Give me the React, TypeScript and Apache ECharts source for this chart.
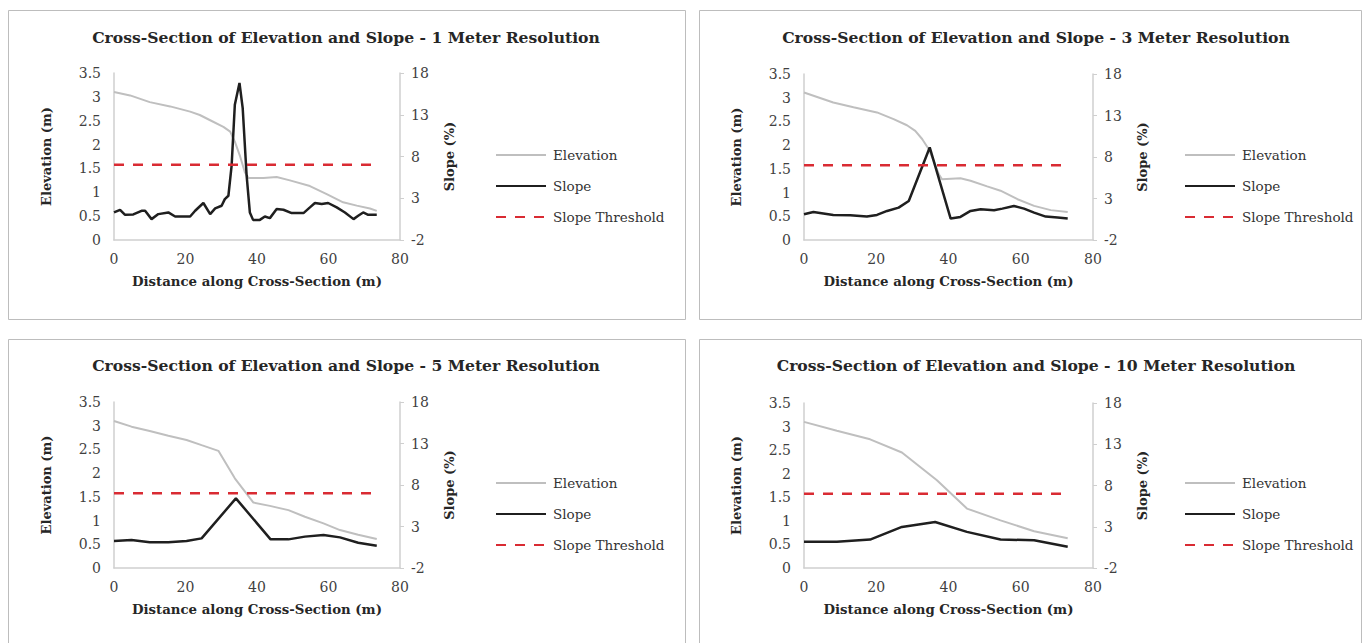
import React, { useEffect, useRef } from "react";
import * as echarts from "echarts";

const titles = [
  "Cross-Section of Elevation and Slope - 1 Meter Resolution",
  "Cross-Section of Elevation and Slope - 3 Meter Resolution",
  "Cross-Section of Elevation and Slope - 5 Meter Resolution",
  "Cross-Section of Elevation and Slope - 10 Meter Resolution",
];
const legendNames = ["Elevation", "Slope", "Slope Threshold"];
const slopeThreshold = 7;
const thresholdX = [0, 73];

// 1 m resolution
const elev1X = [0, 4.5, 10, 15.7, 21.3, 24, 26.9, 30.6, 32.5, 33.8, 35.2, 36.6, 37.6, 41.8, 45.5, 49.2, 54.8, 59.5, 64.1, 67.9, 71.6, 73.5];
const elev1Y = [3.1, 3.03, 2.89, 2.8, 2.69, 2.62, 2.51, 2.37, 2.27, 2.06, 1.77, 1.42, 1.3, 1.3, 1.32, 1.25, 1.13, 0.96, 0.79, 0.72, 0.66, 0.61];
const slope1X = [0, 1.7, 3.1, 5.4, 7.7, 8.7, 10.5, 12.4, 15.2, 17.1, 21.3, 22.7, 25, 26.9, 28.3, 30.1, 31, 32, 32.9, 33.8, 35.1, 36, 37.1, 38, 38.9, 40.8, 42.2, 43.6, 45.5, 47.4, 49.7, 53, 54.8, 56.2, 58.1, 59.9, 62.3, 64.6, 67, 68.3, 69.7, 71.1, 73.5];
const slope1Y = [1.3, 1.62, 1.02, 1.06, 1.5, 1.5, 0.5, 1.1, 1.3, 0.82, 0.82, 1.5, 2.43, 1.1, 1.78, 2.1, 2.9, 3.3, 6.9, 14.2, 16.8, 13.8, 5.7, 1.3, 0.41, 0.41, 0.82, 0.62, 1.7, 1.62, 1.22, 1.22, 1.9, 2.43, 2.3, 2.43, 1.9, 1.3, 0.5, 0.9, 1.3, 1.02, 1.02];

// 3 m resolution
const elev2X = [0, 8.1, 13.7, 20.2, 24.8, 28.5, 30.8, 32.7, 34.5, 35.9, 37.3, 38.2, 43.3, 46.1, 50.7, 54.4, 59.1, 63.7, 68.3, 73];
const elev2Y = [3.11, 2.9, 2.8, 2.69, 2.55, 2.42, 2.3, 2.13, 1.92, 1.67, 1.39, 1.28, 1.3, 1.25, 1.13, 1.04, 0.86, 0.72, 0.63, 0.59];
const slope2X = [0, 2.6, 8.1, 12.8, 17.4, 20.2, 23, 26.2, 29, 34.8, 40.6, 43.3, 46.1, 48.9, 52.6, 54.9, 58.1, 60.9, 63.7, 66.9, 70.2, 73];
const slope2Y = [1.1, 1.38, 1.02, 0.98, 0.82, 1.02, 1.5, 1.9, 2.7, 9.15, 0.58, 0.78, 1.5, 1.7, 1.58, 1.78, 2.1, 1.78, 1.3, 0.82, 0.7, 0.58];

// 5 m resolution
const elev3X = [0, 4.9, 10, 15.2, 20.3, 24.5, 29.2, 33.8, 39, 43.6, 48.8, 53.4, 58.6, 63.2, 68.3, 73.5];
const elev3Y = [3.1, 2.98, 2.89, 2.79, 2.7, 2.59, 2.47, 1.89, 1.38, 1.31, 1.22, 1.08, 0.94, 0.8, 0.7, 0.61];
const slope3X = [0, 4.9, 10, 15.2, 20.3, 24.5, 34.1, 43.8, 48.8, 53.4, 58.6, 63.2, 68.3, 73.5];
const slope3Y = [1.25, 1.37, 1.09, 1.09, 1.25, 1.57, 6.39, 1.45, 1.45, 1.78, 1.98, 1.69, 1.05, 0.69];

// 10 m resolution
const elev4X = [0, 9.1, 18.3, 27.1, 36.8, 45.1, 54.4, 63.7, 73];
const elev4Y = [3.1, 2.91, 2.73, 2.45, 1.86, 1.26, 1.01, 0.78, 0.63];
const slope4X = [0, 9.1, 18.3, 27.1, 36.3, 45.1, 54.4, 63.7, 73];
const slope4Y = [1.17, 1.17, 1.45, 2.98, 3.58, 2.38, 1.45, 1.37, 0.57];

const FONT = "'DejaVu Serif', 'Liberation Serif', serif";
const ELEV_COLOR = "#bfbfbf";
const SLOPE_COLOR = "#1f1f1f";
const THRESH_COLOR = "#d92b33";
const AXIS_COLOR = "#cfcfcf";
const LABEL_COLOR = "#3f3f3f";

const zip = (xs: number[], ys: number[]) => xs.map((x, i) => [x, ys[i]]);

const panelData = [
  { ex: elev1X, ey: elev1Y, sx: slope1X, sy: slope1Y },
  { ex: elev2X, ey: elev2Y, sx: slope2X, sy: slope2Y },
  { ex: elev3X, ey: elev3Y, sx: slope3X, sy: slope3Y },
  { ex: elev4X, ey: elev4Y, sx: slope4X, sy: slope4Y },
];

const layout = [
  { box: [8, 10, 677, 309], grid: { left: 114, top: 73, width: 286, height: 167 }, legend: { left: 495, top: 148 }, tx: 346, ty: 37 },
  { box: [699, 10, 662, 309], grid: { left: 804, top: 74, width: 289, height: 166 }, legend: { left: 1184, top: 148 }, tx: 1036, ty: 37 },
  { box: [8, 339, 677, 320], grid: { left: 114, top: 402, width: 286, height: 166 }, legend: { left: 495, top: 476 }, tx: 346, ty: 365 },
  { box: [699, 339, 662, 320], grid: { left: 804, top: 403, width: 289, height: 165 }, legend: { left: 1184, top: 476 }, tx: 1036, ty: 365 },
];

function buildOption() {
  const grid: any[] = [];
  const xAxis: any[] = [];
  const yAxis: any[] = [];
  const series: any[] = [];
  const legend: any[] = [];
  const graphic: any[] = [];

  layout.forEach((l, i) => {
    graphic.push({
      type: "rect",
      shape: { x: l.box[0] + 0.5, y: l.box[1] + 0.5, width: l.box[2], height: l.box[3] },
      style: { fill: "none", stroke: "#bdbdbd", lineWidth: 1 },
      silent: true,
      z: -1,
    });
    graphic.push({
      type: "text",
      x: l.tx,
      y: l.ty,
      style: {
        text: titles[i],
        font: `bold 15.6px ${FONT}`,
        fill: "#262626",
        textAlign: "center",
        textVerticalAlign: "middle",
      },
    });
    grid.push({ ...l.grid, containLabel: false });
    xAxis.push({
      type: "value",
      gridIndex: i,
      min: 0,
      max: 80,
      interval: 20,
      name: "Distance along Cross-Section (m)",
      nameLocation: "middle",
      nameGap: 35,
      nameTextStyle: { fontFamily: FONT, fontWeight: "bold", fontSize: 13.3, color: "#262626" },
      axisLine: { show: true, lineStyle: { color: AXIS_COLOR, width: 1.5 } },
      axisTick: { show: false },
      splitLine: { show: false },
      axisLabel: { fontFamily: FONT, fontSize: 14, color: LABEL_COLOR, margin: 12 },
    });
    yAxis.push({
      type: "value",
      gridIndex: i,
      position: "left",
      min: 0,
      max: 3.5,
      interval: 0.5,
      name: "Elevation (m)",
      nameLocation: "middle",
      nameGap: 61,
      nameTextStyle: { fontFamily: FONT, fontWeight: "bold", fontSize: 13, color: "#262626" },
      axisLine: { show: true, lineStyle: { color: AXIS_COLOR, width: 1.5 } },
      axisTick: { show: false },
      splitLine: { show: false },
      axisLabel: { fontFamily: FONT, fontSize: 14, color: LABEL_COLOR, margin: 13 },
    });
    yAxis.push({
      type: "value",
      gridIndex: i,
      position: "right",
      min: -2,
      max: 18,
      interval: 5,
      name: "Slope (%)",
      nameLocation: "middle",
      nameGap: 43,
      nameTextStyle: { fontFamily: FONT, fontWeight: "bold", fontSize: 13, color: "#262626" },
      axisLine: { show: true, lineStyle: { color: AXIS_COLOR, width: 1.5 } },
      axisTick: { show: true, length: 4, lineStyle: { color: AXIS_COLOR } },
      splitLine: { show: false },
      axisLabel: { fontFamily: FONT, fontSize: 14, color: LABEL_COLOR, margin: 11 },
    });
    const d = panelData[i];
    series.push({
      name: legendNames[0],
      type: "line",
      xAxisIndex: i,
      yAxisIndex: 2 * i,
      data: zip(d.ex, d.ey),
      symbol: "none",
      lineStyle: { color: ELEV_COLOR, width: 2 },
      itemStyle: { color: ELEV_COLOR },
      z: 2,
    });
    series.push({
      name: legendNames[1],
      type: "line",
      xAxisIndex: i,
      yAxisIndex: 2 * i + 1,
      data: zip(d.sx, d.sy),
      symbol: "none",
      lineStyle: { color: SLOPE_COLOR, width: 2.5 },
      itemStyle: { color: SLOPE_COLOR },
      z: 3,
    });
    series.push({
      name: legendNames[2],
      type: "line",
      xAxisIndex: i,
      yAxisIndex: 2 * i + 1,
      data: thresholdX.map((x) => [x, slopeThreshold]),
      symbol: "none",
      lineStyle: { color: THRESH_COLOR, width: 2.5, type: [10, 9] },
      itemStyle: { color: THRESH_COLOR },
      z: 4,
    });
    legend.push({
      orient: "vertical",
      left: l.legend.left,
      top: l.legend.top,
      padding: 0,
      itemWidth: 50,
      itemHeight: 14,
      itemGap: 17,
      selectedMode: false,
      data: legendNames,
      itemStyle: { opacity: 0, borderWidth: 0 },
      textStyle: { fontFamily: FONT, fontSize: 13.5, color: "#333333", padding: [0, 0, 0, 2] },
    });
  });

  return {
    animation: false,
    backgroundColor: "#ffffff",
    grid,
    xAxis,
    yAxis,
    series,
    legend,
    graphic,
  };
}

export default function App() {
  const ref = useRef<HTMLDivElement>(null);
  useEffect(() => {
    if (!ref.current) return;
    const chart = echarts.init(ref.current, undefined, { renderer: "svg" });
    chart.setOption(buildOption() as any);
    return () => chart.dispose();
  }, []);
  return (
    <div
      ref={ref}
      style={{ position: "absolute", left: 0, top: 0, width: 1363, height: 643, background: "#fff" }}
    />
  );
}
